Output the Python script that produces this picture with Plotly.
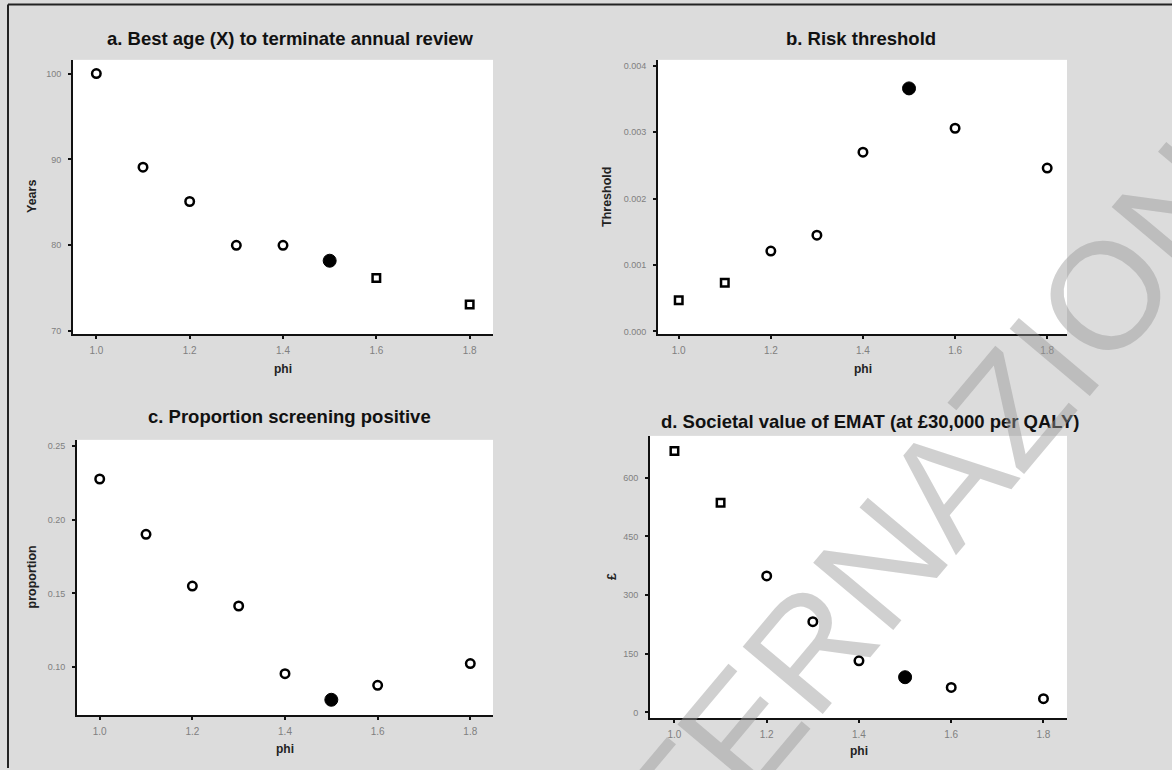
import plotly.graph_objects as go

# ---- data ----
phi = [1.0, 1.1, 1.2, 1.3, 1.4, 1.5, 1.6, 1.8]
best_age_years = [100, 89.1, 85.1, 80, 80, 78.2, 76.2, 73.1]
risk_threshold = [0.00047, 0.000735, 0.00121, 0.00145, 0.0027, 0.00366, 0.00306, 0.00246]
prop_screen_pos = [0.2275, 0.190, 0.155, 0.1415, 0.0957, 0.078, 0.0878, 0.1025]
societal_value_gbp = [668, 536, 349, 232, 132, 90, 64, 35]

# point status per panel: interior estimate, chosen optimum, boundary value
status_a = ["interior", "interior", "interior", "interior", "interior", "optimum", "boundary", "boundary"]
status_b = ["boundary", "boundary", "interior", "interior", "interior", "optimum", "interior", "interior"]
status_c = ["interior", "interior", "interior", "interior", "interior", "optimum", "interior", "interior"]
status_d = ["boundary", "boundary", "interior", "interior", "interior", "optimum", "interior", "interior"]

titles = ["a. Best age (X) to terminate annual review", "b. Risk threshold",
          "c. Proportion screening positive", "d. Societal value of EMAT (at £30,000 per QALY)"]
y_titles = ["Years", "Threshold", "proportion", "£"]
x_title = "phi"
x_ticks = [1.0, 1.2, 1.4, 1.6, 1.8]
y_ticks = [[70, 80, 90, 100], [0.0, 0.001, 0.002, 0.003, 0.004],
           [0.10, 0.15, 0.20, 0.25], [0, 150, 300, 450, 600]]
y_tickformat = ["d", ".3f", ".2f", "d"]
watermark = "INTERNAZIONALE"

W, H = 1172, 770
BG = "#dcdcdc"

# panel plot-area boxes in pixels: (left, right, top, bottom)
boxes = [(73, 493, 60, 335), (658, 1067, 60, 335), (77, 493, 441, 717), (650, 1067, 437, 720)]
x_ranges = [[0.95, 1.85], [0.955, 1.843], [0.951, 1.849], [0.947, 1.851]]
y_ranges = [[69.65, 101.6], [-0.00004, 0.00409], [0.0676, 0.254], [-14.6, 707]]
title_pos = [(290, 39), (861, 39), (289, 418), (870, 423)]
ytitle_x = [32, 607, 32, 612]
xtitle_y = [370, 370, 751, 753]

styles = {
    "interior": dict(symbol="circle", size=8.5, color="white", line=dict(color="black", width=2.5)),
    "boundary": dict(symbol="square", size=7.5, color="white", line=dict(color="black", width=2.5)),
    "optimum": dict(symbol="circle", size=13, color="black", line=dict(color="black", width=1)),
}

series = [best_age_years, risk_threshold, prop_screen_pos, societal_value_gbp]
statuses = [status_a, status_b, status_c, status_d]

fig = go.Figure()
annotations = []
for i in range(4):
    l, r, t, b = boxes[i]
    xa = "xaxis" if i == 0 else f"xaxis{i+1}"
    ya = "yaxis" if i == 0 else f"yaxis{i+1}"
    xr = "x" if i == 0 else f"x{i+1}"
    yr = "y" if i == 0 else f"y{i+1}"
    for kind in ["interior", "boundary", "optimum"]:
        xs = [p for p, s in zip(phi, statuses[i]) if s == kind]
        ys = [v for v, s in zip(series[i], statuses[i]) if s == kind]
        if not xs:
            continue
        fig.add_trace(go.Scatter(x=xs, y=ys, mode="markers", marker=styles[kind],
                                 xaxis=xr, yaxis=yr, showlegend=False, hoverinfo="x+y"))
    fig.layout[xa] = dict(domain=[l / W, r / W], range=x_ranges[i], anchor=yr,
                          tickvals=x_ticks, tickformat=".1f", showgrid=False, zeroline=False,
                          showline=True, linecolor="#111", linewidth=2, ticks="outside",
                          ticklen=3, tickwidth=2, tickcolor="#111", ticklabelstandoff=3,
                          tickfont=dict(family="Liberation Sans", size=10, color="#808080"))
    fig.layout[ya] = dict(domain=[1 - b / H, 1 - t / H], range=y_ranges[i], anchor=xr,
                          tickvals=y_ticks[i], tickformat=y_tickformat[i], showgrid=False,
                          zeroline=False, showline=True, linecolor="#111", linewidth=2,
                          ticks="outside", ticklen=3, tickwidth=2, tickcolor="#111",
                          ticklabelstandoff=5,
                          tickfont=dict(family="Liberation Sans", size=9, color="#808080"))
    tx, ty = title_pos[i]
    annotations.append(dict(text=f"<b>{titles[i]}</b>", x=tx / W, y=1 - ty / H, xref="paper",
                            yref="paper", showarrow=False, xanchor="center", yanchor="middle",
                            font=dict(family="Liberation Sans", size=18.5, color="#111")))
    annotations.append(dict(text=f"<b>{y_titles[i]}</b>", x=ytitle_x[i] / W, y=1 - (t + b) / 2 / H,
                            xref="paper", yref="paper", showarrow=False, textangle=-90,
                            xanchor="center", yanchor="middle",
                            font=dict(family="Liberation Sans", size=12.5, color="#222")))
    annotations.append(dict(text=f"<b>{x_title}</b>", x=(l + r) / 2 / W, y=1 - xtitle_y[i] / H,
                            xref="paper", yref="paper", showarrow=False,
                            xanchor="center", yanchor="middle",
                            font=dict(family="Liberation Sans", size=12, color="#222")))

# watermark
annotations.append(dict(text=watermark, x=975 / W, y=1 - 451 / H, xref="paper",
                        yref="paper", showarrow=False, textangle=-50, xanchor="center",
                        yanchor="middle",
                        font=dict(family="Liberation Sans", size=152, color="rgba(150,150,150,0.45)")))

shapes = [
    dict(type="line", xref="paper", yref="paper", x0=8 / W, x1=1, y0=1 - 4.5 / H, y1=1 - 4.5 / H,
         line=dict(color="#222", width=2)),
    dict(type="line", xref="paper", yref="paper", x0=8 / W, x1=8 / W, y0=0, y1=1 - 4.5 / H,
         line=dict(color="#222", width=2)),
]

fig.update_layout(width=W, height=H, margin=dict(l=0, r=0, t=0, b=0),
                  paper_bgcolor=BG, plot_bgcolor="white", showlegend=False,
                  annotations=annotations, shapes=shapes)

fig.write_html("out.html", config={"displayModeBar": False},
               post_script="document.body.style.margin='0';")
